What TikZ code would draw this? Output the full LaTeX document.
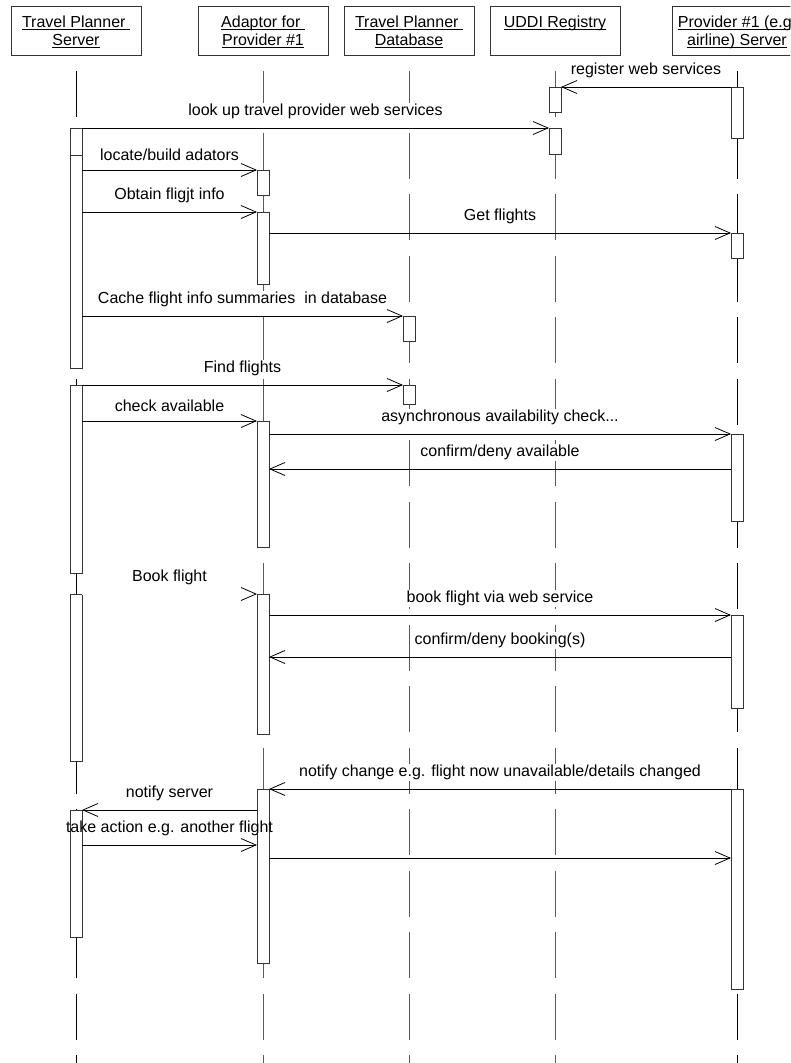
\documentclass[tikz,border=0pt]{standalone}
\usepackage{fontspec}
\setmainfont{Liberation Sans}
\usetikzlibrary{arrows.meta}
% underline that runs through the descenders, as in the header boxes
\newcommand{\hdrline}[1]{\setbox0\hbox{#1}\rlap{\rule[-2.6pt]{\wd0}{1.1pt}}\box0}

\begin{document}
\begin{tikzpicture}[x=1pt,y=-1pt,
  every node/.style={font=\fontsize{16}{18}\selectfont},
  head/.style={draw=black!80,line width=0.8pt,minimum width=130pt,
               minimum height=49pt,inner sep=0pt,align=center,
               text height=31pt,text depth=2pt},
  lifeline/.style={draw=#1,line width=0.8pt,dash pattern=on 46pt off 15.5pt},
  lifeline/.default=black,
  act/.style={draw=black!80,fill=white,line width=0.8pt,minimum width=12pt,
              inner sep=0pt,outer sep=0pt},
  msg/.style={draw=black,line width=0.8pt,-{Straight Barb[length=15pt,width=13pt]}},
  lost/.style={draw=white,line width=0.8pt,
               -{Straight Barb[length=15pt,width=13pt,color=black]}},
  lbl/.style={fill=white,inner sep=1pt,above=8pt}]
  \useasboundingbox (0,0) rectangle (790,1063);
  \clip (0,0) rectangle (790,1063);

  % objects of the sequence diagram
  \node[head] (tps)  at (76,30.5)  {\hdrline{Travel Planner\ }\\\hdrline{Server}};
  \node[head] (adp)  at (263,30.5) {\hdrline{Adaptor for\ }\\\hdrline{Provider \#1}};
  \node[head] (db)   at (409,30.5) {\hdrline{Travel Planner\ }\\\hdrline{Database}};
  \node[head] (uddi) at (555,30.5) {\hdrline{UDDI Registry}\\\strut};
  \node[head] (prov) at (737,30.5) {\hdrline{Provider \#1 (e.g.}\\\hdrline{airline) Server}};

  \coordinate (bottom) at (0,1070);
  \foreach \h/\c in {tps/black,adp/black!65,db/black!65,uddi/black!65,prov/black}
    \draw[lifeline=\c] ([yshift=-16pt]\h.south) -- (\h.south |- bottom);

  % activation bars: name/x/top/bottom
  \foreach \nm/\xx/\ya/\yb in {s1/76/128/155,s2/76/155/368,s3/76/385/573,
      s4/76/594/761,s5/76/810/937,
      a1/263/170/195,a2/263/212/284,a3/263/421/547,a4/263/594/734,a5/263/789/963,
      d1/409/316/341,d2/409/385/404,
      u1/555/87/112,u2/555/128/154,
      p1/737/87/138,p2/737/233/258,p3/737/434/521,p4/737/615/708,p5/737/789/989}{
    \pgfmathsetmacro\hh{\yb-\ya}
    \node[act,minimum height=\hh pt] (\nm) at (\xx,{(\ya+\yb)/2}) {};
  }

  \coordinate (m10) at (0,469);
  \coordinate (m13) at (0,657);
  \coordinate (m16) at (0,845);
  \coordinate (m17) at (0,858);

  % messages
  \draw[msg] (p1.north west) -- (u1.north east) node[lbl,midway] {register web services};
  \draw[msg] (s1.north east) -- (u2.north west)
    node[lbl,midway] {look up travel provider web services};
  \draw[msg] (s2.east |- a1.north) -- (a1.north west) node[lbl,midway] {locate/build adators};
  \draw[msg] (s2.east |- a2.north) -- (a2.north west) node[lbl,midway] {Obtain fligjt info};
  \draw[msg] (a2.east |- p2.north) -- (p2.north west) node[lbl,midway] {Get flights};
  \draw[msg] (s2.east |- d1.north) -- (d1.north west)
    node[lbl,midway] {Cache flight info summaries~ in database};
  \draw[msg] (s3.north east) -- (d2.north west) node[lbl,midway] {Find flights};
  \draw[msg] (s3.east |- a3.north) -- (a3.north west) node[lbl,midway] {check available};
  \draw[msg] (a3.east |- p3.north) -- (p3.north west)
    node[lbl,midway] {asynchronous availability check...};
  \draw[msg] (p3.west |- m10) -- (a3.east |- m10) node[lbl,midway] {confirm/deny available};

  \draw[lost] (s4.north east) -- (a4.north west) node[lbl,midway] {Book flight};
  \draw[msg] (a4.east |- p4.north) -- (p4.north west)
    node[lbl,midway] {book flight via web service};
  \draw[msg] (p4.west |- m13) -- (a4.east |- m13) node[lbl,midway] {confirm/deny booking(s)};

  \draw[msg] (p5.north west) -- (a5.north east)
    node[lbl,midway] {notify change e.g. flight now unavailable/details changed};
  \draw[msg] (a5.west |- s5.north) -- (s5.north east) node[lbl,midway] {notify server};
  \draw[msg] (s5.east |- m16) -- (a5.west |- m16)
    node[lbl,midway,fill=none] {take action e.g. another flight};
  \draw[msg] (a5.east |- m17) -- (p5.west |- m17);
\end{tikzpicture}
\end{document}
